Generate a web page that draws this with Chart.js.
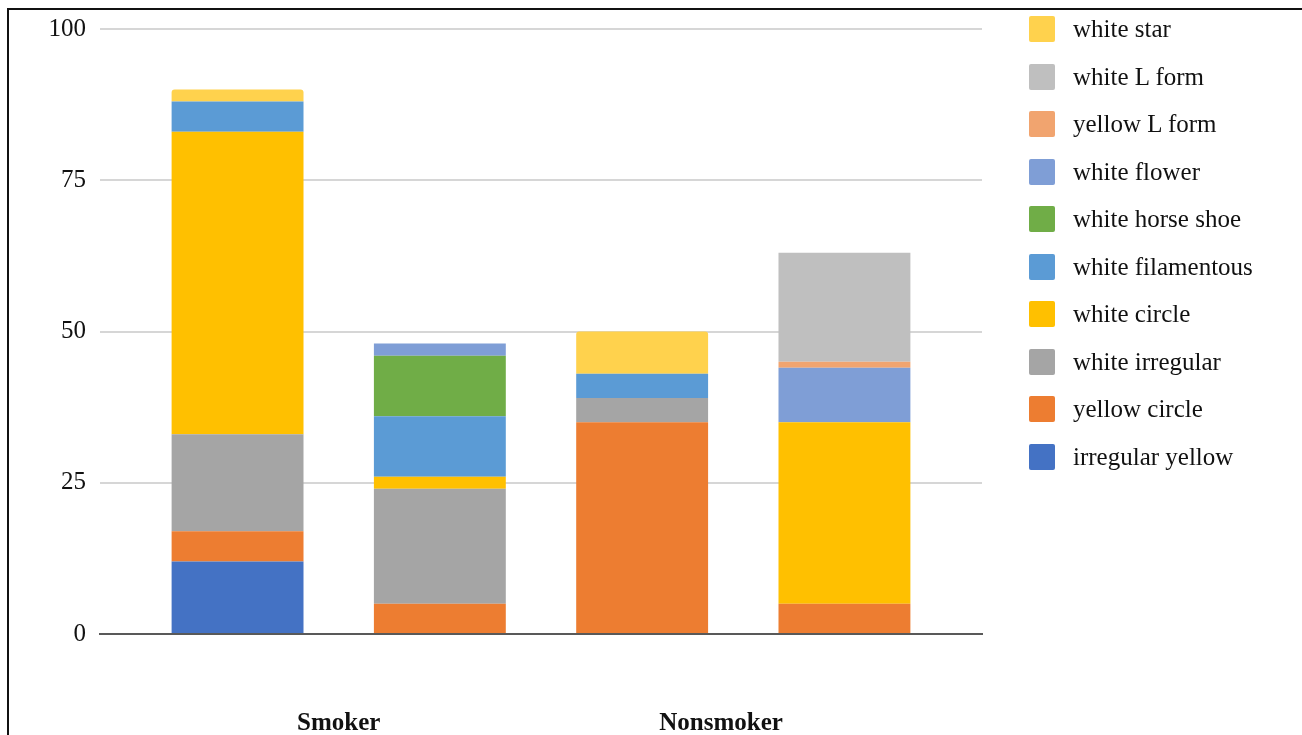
<!DOCTYPE html>
<html>
<head>
<meta charset="utf-8">
<script src="https://cdn.jsdelivr.net/npm/chart.js@4/dist/chart.umd.min.js"></script>
<style>
  html, body { margin: 0; padding: 0; background: #fff; }
  #wrap { position: absolute; left: 0; top: 0; width: 1302px; height: 735px; }
  #frame { position: absolute; left: 7px; top: 8px; width: 1400px; height: 800px;
    border-top: 2px solid #111; border-left: 2px solid #111; pointer-events: none; }
  #legend { position: absolute; left: 1029px; top: 16px; margin: 0; padding: 0; list-style: none;
    font-family: "Liberation Serif", "Times New Roman", serif; font-size: 25px; color: #111; }
  #legend li { display: flex; align-items: center; height: 26px; margin-bottom: 21.5px; }
  #legend span.box { display: inline-block; width: 26px; height: 26px; border-radius: 2px; margin-right: 18px; }
</style>
</head>
<body>
<div id="wrap"><canvas id="chart"></canvas></div>
<div id="frame"></div>
<ul id="legend"></ul>
<script>
// groups on the x axis, two bars each
const groups = ['Smoker', 'Nonsmoker']
const barPos = [0, 1, 2, 3]

// series, bottom of the stack first
const seriesNames = [
  'irregular yellow', 'yellow circle', 'white irregular', 'white circle',
  'white filamentous', 'white horse shoe', 'white flower', 'yellow L form',
  'white L form', 'white star'
]
const irregularYellow = [12, 0, 0, 0]
const yellowCircle = [5, 5, 35, 5]
const whiteIrregular = [16, 19, 4, 0]
const whiteCircle = [50, 2, 0, 30]
const whiteFilamentous = [5, 10, 4, 0]
const whiteHorseShoe = [0, 10, 0, 0]
const whiteFlower = [0, 2, 0, 9]
const yellowLForm = [0, 0, 0, 1]
const whiteLForm = [0, 0, 0, 18]
const whiteStar = [2, 0, 7, 0]

const yTicks = [0, 25, 50, 75, 100]

const seriesValues = [
  irregularYellow, yellowCircle, whiteIrregular, whiteCircle, whiteFilamentous,
  whiteHorseShoe, whiteFlower, yellowLForm, whiteLForm, whiteStar
]
const colors = [
  '#4472C4', '#ED7D31', '#A5A5A5', '#FFC000', '#5B9BD5',
  '#70AD47', '#7F9ED6', '#F1A46F', '#BFBFBF', '#FFD24D'
]

const datasets = seriesNames.map((name, i) => {
  return {
    label: name,
    data: seriesValues[i].map((v, j) => ({ x: barPos[j], y: v })),
    backgroundColor: colors[i],
    borderWidth: 0,
    // only the top segment has the little rounded corners
    borderRadius: name === 'white star' ? 3 : 0,
    barPercentage: 0.652,
    categoryPercentage: 1,
  }
})

const serif = '"Liberation Serif", "Times New Roman", serif'

const chart = new Chart(document.getElementById('chart'), {
  type: 'bar',
  data: { datasets },
  options: {
    responsive: true,
    maintainAspectRatio: false,
    devicePixelRatio: 1,
    animation: false,
    layout: { padding: { top: 28, right: 320, left: 0, bottom: 0 } },
    plugins: { legend: { display: false }, tooltip: { enabled: false } },
    scales: {
      x: {
        type: 'linear',
        stacked: true,
        offset: false,
        bounds: 'data',
        min: -0.68,
        max: 3.68,
        afterBuildTicks: (scale) => {
          // group label sits between its two bars
          scale.ticks = [{ value: 0.5 }, { value: 2.39 }]
        },
        afterFit: (scale) => {
          scale.height = 101
        },
        grid: { display: false, drawTicks: false },
        border: { display: true, color: '#595959', width: 2 },
        ticks: {
          // two empty lines push the group names well below the axis
          callback: (value, index) => ['', '', groups[index]],
          padding: 15,
          maxRotation: 0,
          autoSkip: false,
          color: '#111',
          font: { family: serif, size: 25, weight: 'bold', lineHeight: 1.2 },
        },
      },
      y: {
        stacked: true,
        min: yTicks[0],
        max: yTicks[yTicks.length - 1],
        afterBuildTicks: (scale) => {
          scale.ticks = yTicks.map((v) => ({ value: v }))
        },
        afterFit: (scale) => {
          scale.width = 100
        },
        grid: { color: '#d6d6d6', lineWidth: 2, drawTicks: false },
        border: { display: false },
        ticks: {
          padding: 14,
          color: '#111',
          font: { family: serif, size: 25 },
        },
      },
    },
  },
})

// html legend, top of the stack first
const legendEl = document.getElementById('legend')
chart.data.datasets
  .slice()
  .reverse()
  .forEach((ds) => {
    const li = document.createElement('li')
    const box = document.createElement('span')
    box.className = 'box'
    box.style.background = ds.backgroundColor
    li.appendChild(box)
    li.appendChild(document.createTextNode(ds.label))
    legendEl.appendChild(li)
  })
</script>
</body>
</html>
